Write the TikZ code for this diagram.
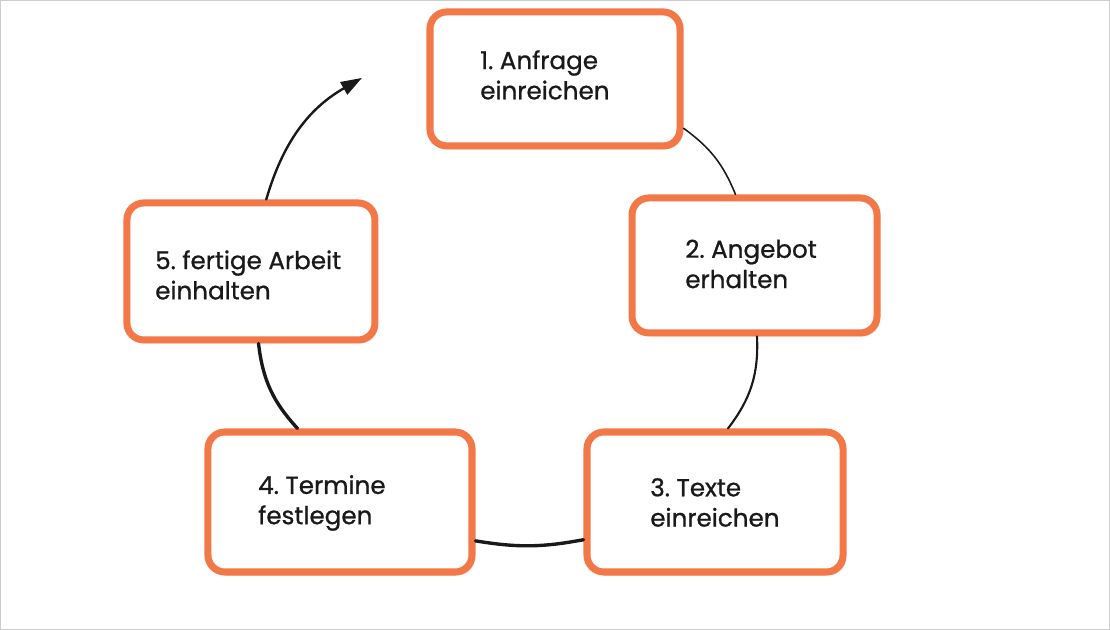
\documentclass[tikz,border=0pt]{standalone}
\usepackage{fontspec}
\setmainfont{Poppins}
\newfontfamily\kastenschrift{Poppins}[FakeBold=0.8]
\usetikzlibrary{arrows.meta}
\definecolor{strich}{RGB}{242,120,72}
\definecolor{schrift}{RGB}{25,25,25}
\tikzset{
  kasten/.style={draw=strich, line width=5pt, rounded corners=12pt, fill=white,
    preaction={draw=strich!50, line width=1.2pt, rounded corners=12pt,
      transform canvas={shift={(1.5pt,-1.8pt)}}}},
  beschriftung/.style={anchor=west, align=left, inner sep=0pt, text=schrift,
    font=\kastenschrift\fontsize{17.5}{21.5}\selectfont\frenchspacing},
  pfeil/.style={draw=black!90, line cap=round}
}
\begin{document}
\begin{tikzpicture}[x=0.025cm, y=-0.025cm]
  \draw[black!20, line width=0.6pt] (0.5,0.5) rectangle (1109.5,629.5);
  % Kaesten
  \node[kasten, minimum width=250*0.025cm, minimum height=134*0.025cm] (s1) at (555,79) {};
  \node[kasten, minimum width=245*0.025cm, minimum height=135*0.025cm] (s2) at (754.5,265.5) {};
  \node[kasten, minimum width=256*0.025cm, minimum height=140*0.025cm] (s3) at (715,502) {};
  \node[kasten, minimum width=264*0.025cm, minimum height=140*0.025cm] (s4) at (340,502) {};
  \node[kasten, minimum width=248*0.025cm, minimum height=137*0.025cm] (s5) at (251,271.5) {};
  % Texte
  \node[beschriftung] (t1) at (480,75) {1. Anfrage\\einreichen};
  \node[beschriftung] (t2) at (685,264) {2. Angebot\\erhalten};
  \node[beschriftung] (t3) at (650,502.5) {3. Texte\\einreichen};
  \node[beschriftung] (t4) at (258,503) {4. Termine\\festlegen};
  \node[beschriftung] (t5) at (155,275) {5. fertige Arbeit\\einhalten};
  \coordinate (ende) at (362,78);
  % Verbindungen
  \draw[pfeil, line width=1.1pt] (s1.-21) to[bend left=16] (s2.105);
  \draw[pfeil, line width=1.5pt] (s2.-88) to[bend left=20] (s3.80);
  \draw[pfeil, line width=2.4pt] (s3.196) to[bend left=10] (s4.-16);
  \draw[pfeil, line width=2.4pt] (s4.120) to[bend left=18] (s5.-84);
  \draw[pfeil, line width=1.7pt, -{Triangle[length=15pt, width=10pt]}] (s5.78) to[bend left=22] (ende);
\end{tikzpicture}
\end{document}
